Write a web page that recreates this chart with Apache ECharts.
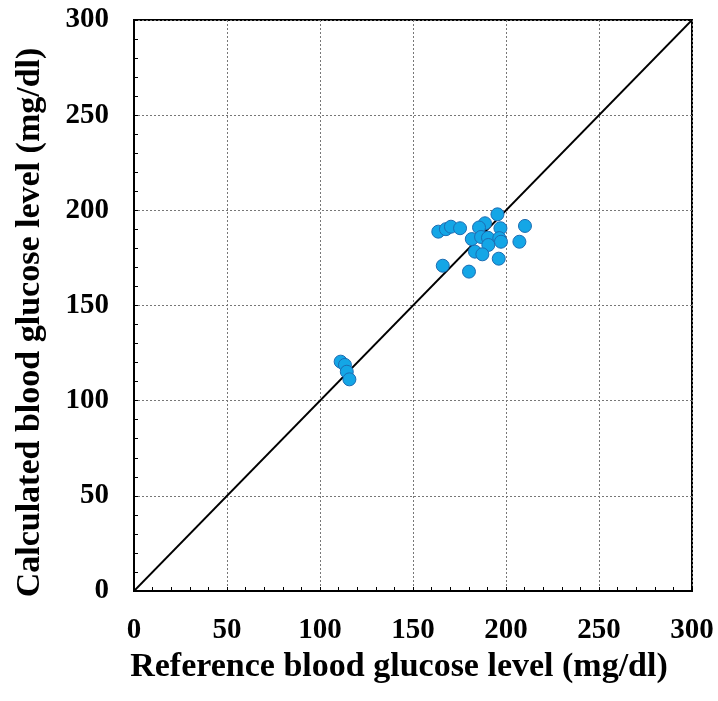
<!DOCTYPE html>
<html>
<head>
<meta charset="utf-8">
<script src="https://cdn.jsdelivr.net/npm/echarts@6/dist/echarts.min.js"></script>
<style>html,body{margin:0;padding:0;background:#fff}#c{width:718px;height:701px}</style>
</head>
<body>
<div id="c"></div>
<script>
const xTitle = 'Reference blood glucose level (mg/dl)';
const yTitle = 'Calculated blood glucose level (mg/dl)';
const referenceValues = [163.6,167.7,170.4,175.3,195.4,188.7,185.5,197.0,210.2,181.6,186.6,190.3,196.4,197.3,207.2,190.5,183.3,187.3,196.1,166.0,180.1,111.1,113.4,114.4,115.8];
const calculatedValues = [188.8,190.1,191.4,190.6,197.9,193.2,191.0,190.6,191.8,184.9,186.0,185.6,185.4,183.5,183.5,181.8,178.3,176.9,174.6,170.9,167.8,120.5,118.8,115.2,111.2];
const identityX = [0, 300];
const identityY = [0, 300];
const axisMin = 0, axisMax = 300, axisStep = 50;

const points = referenceValues.map((v, i) => [v, calculatedValues[i]]);
const diag = identityX.map((v, i) => [v, identityY[i]]);
const font = 'Liberation Serif';

function axisCommon() {
  return {
    type: 'value', min: axisMin, max: axisMax, interval: axisStep,
    axisLine: { show: true, onZero: false, lineStyle: { color: '#000', width: 2 } },
    axisTick: { show: true, inside: true, length: 4, lineStyle: { color: '#000', width: 1 } },
    minorTick: { show: true, splitNumber: 5, length: 4, lineStyle: { color: '#000', width: 1 } },
    splitLine: { show: true, lineStyle: { color: '#777', width: 1, type: [2, 2] } },
    axisLabel: { color: '#000', fontFamily: font, fontWeight: 'bold', fontSize: 29 },
  };
}
const xAxis = axisCommon();
xAxis.axisLabel.margin = 25;
xAxis.name = xTitle;
xAxis.nameLocation = 'middle';
xAxis.nameGap = 53;
xAxis.nameTextStyle = { color: '#000', fontFamily: font, fontWeight: 'bold', fontSize: 34, padding: [0, 28, 0, 0] };

const yAxis = axisCommon();
yAxis.axisLabel.margin = 25;
yAxis.name = yTitle;
yAxis.nameLocation = 'middle';
yAxis.nameGap = 87;
yAxis.nameTextStyle = { color: '#000', fontFamily: font, fontWeight: 'bold', fontSize: 34, padding: [0, 34, 0, 0] };

const chart = echarts.init(document.getElementById('c'), null, { renderer: 'canvas' });
chart.setOption({
  animation: false,
  backgroundColor: '#fff',
  grid: { left: 134, right: 26, top: 20, bottom: 110, show: true, borderColor: '#000', borderWidth: 2, backgroundColor: 'transparent' },
  xAxis: xAxis,
  yAxis: yAxis,
  series: [
    {
      type: 'line', data: diag, symbol: 'none', silent: true,
      lineStyle: { color: '#000', width: 1.8 }, z: 3
    },
    {
      type: 'scatter', data: points, symbolSize: 13,
      itemStyle: { color: '#14A6E6', borderColor: '#1C6DB3', borderWidth: 1, opacity: 1 }, z: 4
    }
  ]
});
</script>
</body>
</html>
